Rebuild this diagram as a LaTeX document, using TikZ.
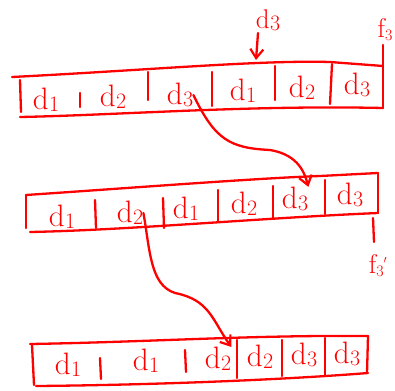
\documentclass[tikz,border=0pt]{standalone}
\usepackage{fontspec}
\usetikzlibrary{arrows.meta}
\definecolor{pen}{RGB}{255,0,0}
\newcommand{\dsub}[1]{d\kern0.5pt\raisebox{-2pt}{\fontsize{22}{22}\selectfont #1}}
\newcommand{\fsub}[2]{f\raisebox{-3pt}{\fontsize{16}{16}\selectfont #1}\raisebox{4pt}{\fontsize{16}{16}\selectfont #2}}
\tikzset{
  ink/.style={draw=pen, line width=2.3pt, line cap=round, line join=round},
  cell/.style={text=pen, font=\fontsize{31}{32}\selectfont, inner sep=0pt},
  lbl/.style={text=pen, font=\fontsize{27}{28}\selectfont, inner sep=0pt},
  arr/.style={ink, -{Straight Barb[length=9pt,width=13pt,line width=2.2pt]}}
}
\begin{document}
\begin{tikzpicture}[x=1pt,y=-1pt]
\useasboundingbox (0,0) rectangle (395,390);
% ---------- row 1 ----------
\draw[ink] (12,77) .. controls (150,70) and (260,60) .. (330,62) -- (383,66);
\draw[ink] (20,117) .. controls (120,115) and (250,105) .. (383,108);
\draw[ink] (20,80) -- (21,112);
\draw[ink] (80,93) -- (80,107);
\draw[ink] (148,72) -- (148,100);
\draw[ink] (212,72) -- (212,106);
\draw[ink] (275,66) -- (275,100);
\draw[ink] (332,64) -- (330,104);
\draw[ink] (383,45) -- (383,108);
\node[cell] (a1) at (46,100) {\dsub{1}};
\node[cell] (a2) at (113,97) {\dsub{2}};
\node[cell] (a3) at (180,95) {\dsub{3}};
\node[cell] (a4) at (243,91) {\dsub{1}};
\node[cell] (a5) at (302,88) {\dsub{2}};
\node[cell] (a6) at (357,85) {\dsub{3}};
\node[lbl] (in) at (268,20) {\dsub{3}};
\coordinate (intop) at (258,33);
\coordinate (inend) at (256,60);
\draw[arr] (intop) -- (inend);
\node[lbl] (f1) at (385,30) {\fsub{3}{}};
% ---------- row 2 ----------
\draw[ink] (26,195) .. controls (130,188) and (260,178) .. (320,176) -- (378,173);
\draw[ink] (30,232) .. controls (130,230) and (260,218) .. (378,213);
\draw[ink] (26,195) -- (26,228);
\draw[ink] (95,200) -- (96,228);
\draw[ink] (163,198) -- (164,228);
\draw[ink] (218,190) -- (218,222);
\draw[ink] (273,186) -- (273,218);
\draw[ink] (325,180) -- (325,214);
\draw[ink] (378,173) -- (378,213);
\draw[ink] (373,218) -- (374,242);
\node[cell] (b1) at (62,217) {\dsub{1}};
\node[cell] (b2) at (130,213) {\dsub{2}};
\node[cell] (b3) at (186,209) {\dsub{1}};
\node[cell] (b4) at (244,204) {\dsub{2}};
\node[cell] (b5) at (295,199) {\dsub{3}};
\node[cell] (b6) at (350,195) {\dsub{3}};
\node[lbl] (f2) at (378,266) {\fsub{3}{$'$}};
% ---------- row 3 ----------
\draw[ink] (30,344) .. controls (150,342) and (250,335) .. (368,336);
\draw[ink] (36,386) .. controls (150,385) and (280,380) .. (368,373);
\draw[ink] (32,345) -- (34,385);
\draw[ink] (100,358) -- (101,379);
\draw[ink] (185,350) -- (186,372);
\draw[ink] (237,340) -- (237,378);
\draw[ink] (282,340) -- (282,376);
\draw[ink] (325,338) -- (325,376);
\draw[ink] (368,336) -- (367,373);
\node[cell] (c1) at (68,365) {\dsub{1}};
\node[cell] (c2) at (146,361) {\dsub{1}};
\node[cell] (c3) at (218,359) {\dsub{2}};
\node[cell] (c4) at (260,357) {\dsub{2}};
\node[cell] (c5) at (304,355) {\dsub{3}};
\node[cell] (c6) at (347,354) {\dsub{3}};
% ---------- moves ----------
\draw[arr] (a3.east) .. controls (215,140) and (230,148) .. (270,150)
  .. controls (300,155) and (305,175) .. (b5.north east);
\draw[arr] (b2.east) .. controls (150,250) and (150,285) .. (175,293)
  .. controls (210,300) and (212,320) .. (c3.north east);
\end{tikzpicture}
\end{document}
